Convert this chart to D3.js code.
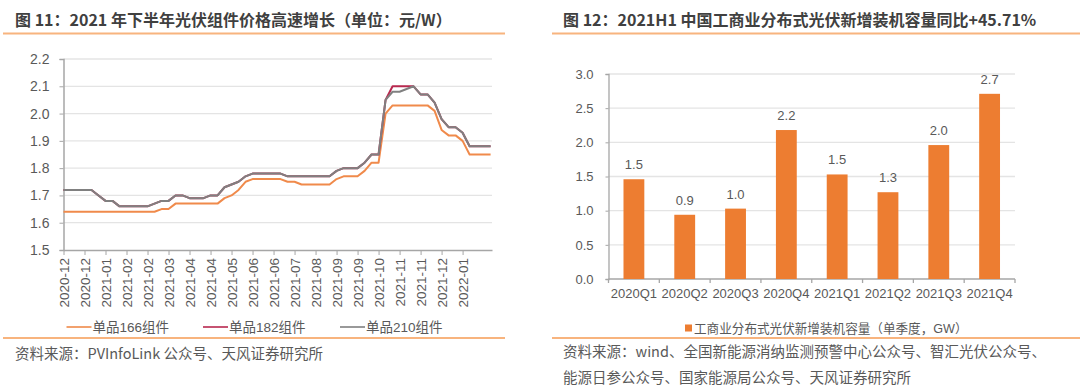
<!DOCTYPE html>
<html>
<head>
<meta charset="utf-8">
<script src="https://cdn.jsdelivr.net/npm/d3@7"></script>
<style>
  body { margin: 0; background: #fff; }
  svg { display: block; }
  .num { font-family: "Liberation Sans", "Noto Sans CJK SC", sans-serif; fill: #595959; }
  .cjk { font-family: "Noto Sans CJK SC", "Liberation Sans", sans-serif; }
</style>
</head>
<body>
<svg id="chart" width="1080" height="389"></svg>
<script>
// ---- left chart data: weekly module prices (yuan/W)
const weekTicks = ["2020-12","2020-12","2021-01","2021-02","2021-02","2021-03","2021-04","2021-04","2021-05","2021-06",
  "2021-06","2021-07","2021-08","2021-09","2021-09","2021-10","2021-11","2021-11","2021-12","2022-01"];

const mono166 = [1.64,1.64,1.64,1.64,1.64,1.64,1.64,1.64,1.64,1.64,1.64,1.64,1.64,1.64,1.65,1.65,1.67,1.67,1.67,1.67,
  1.67,1.67,1.67,1.69,1.70,1.72,1.75,1.76,1.76,1.76,1.76,1.76,1.75,1.75,1.74,1.74,1.74,1.74,1.74,1.76,
  1.77,1.77,1.77,1.79,1.82,1.82,2.00,2.03,2.03,2.03,2.03,2.03,2.03,2.01,1.94,1.92,1.92,1.90,1.85,1.85,
  1.85,1.85];

const mono182 = [1.72,1.72,1.72,1.72,1.72,1.70,1.68,1.68,1.66,1.66,1.66,1.66,1.66,1.67,1.68,1.68,1.70,1.70,1.69,1.69,
  1.69,1.70,1.70,1.73,1.74,1.75,1.77,1.78,1.78,1.78,1.78,1.78,1.77,1.77,1.77,1.77,1.77,1.77,1.77,1.79,
  1.80,1.80,1.80,1.82,1.85,1.85,2.05,2.10,2.10,2.10,2.10,2.07,2.07,2.04,1.98,1.95,1.95,1.93,1.88,1.88,
  1.88,1.88];

const mono210 = [1.72,1.72,1.72,1.72,1.72,1.70,1.68,1.68,1.66,1.66,1.66,1.66,1.66,1.67,1.68,1.68,1.70,1.70,1.69,1.69,
  1.69,1.70,1.70,1.73,1.74,1.75,1.77,1.78,1.78,1.78,1.78,1.78,1.77,1.77,1.77,1.77,1.77,1.77,1.77,1.79,
  1.80,1.80,1.80,1.82,1.85,1.85,2.05,2.08,2.08,2.09,2.10,2.07,2.07,2.04,1.98,1.95,1.95,1.93,1.88,1.88,
  1.88,1.88];

const priceTicks = [1.5,1.6,1.7,1.8,1.9,2.0,2.1,2.2];

// ---- right chart data: C&I distributed PV new installs (GW per quarter)
const quarters = ["2020Q1","2020Q2","2020Q3","2020Q4","2021Q1","2021Q2","2021Q3","2021Q4"];
const capacity = [1.46,0.94,1.03,2.18,1.53,1.27,1.96,2.71];
const capTicks = [0,0.5,1,1.5,2,2.5,3];

const svg = d3.select("#chart");
svg.append("rect").attr("width",1080).attr("height",389).attr("fill","#fff");

const lineOrange = "#f8b47e";
const axisGray = "#a6a6a6";
const gridGray = "#e4e4e4";

// titles and separators
svg.append("text").attr("class","cjk").attr("x",15).attr("y",26)
  .attr("font-size",16).attr("font-weight","bold").attr("fill","#404040")
  .text("图 11：2021 年下半年光伏组件价格高速增长（单位：元/W）");
svg.append("text").attr("class","cjk").attr("x",563).attr("y",26)
  .attr("font-size",16).attr("font-weight","bold").attr("fill","#404040")
  .text("图 12：2021H1 中国工商业分布式光伏新增装机容量同比+45.71%");

[[3,505,33.5],[552,1080,33.5],[3,505,338],[552,1080,338]].forEach(d => {
  svg.append("line").attr("x1",d[0]).attr("x2",d[1]).attr("y1",d[2]).attr("y2",d[2])
    .attr("stroke",lineOrange).attr("stroke-width",2);
});

// sources
svg.append("text").attr("class","cjk").attr("x",15).attr("y",359)
  .attr("font-size",14.5).attr("fill","#595959")
  .text("资料来源：PVInfoLink 公众号、天风证券研究所");
svg.append("text").attr("class","cjk").attr("x",563).attr("y",357)
  .attr("font-size",14.5).attr("fill","#595959")
  .text("资料来源：wind、全国新能源消纳监测预警中心公众号、智汇光伏公众号、");
svg.append("text").attr("class","cjk").attr("x",563).attr("y",383)
  .attr("font-size",14.5).attr("fill","#595959")
  .text("能源日参公众号、国家能源局公众号、天风证券研究所");

// ================= left line chart
const x = d3.scaleLinear().domain([0, 61.2]).range([63.5, 492]);
const y = d3.scaleLinear().domain([1.5, 2.2]).range([250, 59]);

const gl = svg.append("g");
gl.selectAll("line.grid").data(priceTicks.slice(1)).join("line")
  .attr("x1",x(0)).attr("x2",492).attr("y1",d=>y(d)).attr("y2",d=>y(d))
  .attr("stroke",gridGray).attr("stroke-width",1.3);

const yAx = gl.append("g").attr("transform",`translate(${x(0)},0)`)
  .call(d3.axisLeft(y).tickValues(priceTicks).tickFormat(d3.format(".1f")).tickSize(4).tickPadding(10));
yAx.select(".domain").attr("stroke",axisGray).attr("stroke-width",1.5);
yAx.selectAll(".tick line").attr("stroke",axisGray);
yAx.selectAll("text").attr("class","num").attr("font-size",14).attr("fill","#595959");

const tickIdx = weekTicks.map((d,i)=>i*3);
const xAx = gl.append("g").attr("transform","translate(0,250)")
  .call(d3.axisBottom(x).tickValues(tickIdx).tickFormat((d,i)=>weekTicks[i]).tickSize(5).tickSizeOuter(0));
xAx.select(".domain").attr("stroke",axisGray).attr("stroke-width",1.5);
xAx.selectAll(".tick line").attr("stroke",axisGray);
xAx.selectAll("text").attr("class","num").attr("font-size",13.5).attr("fill","#595959")
  .attr("transform","rotate(-90)").attr("text-anchor","end")
  .attr("x",-8).attr("y",0).attr("dy","0.36em");

const line = d3.line().x((d,i)=>x(i)).y(d=>y(d));
const series = [
  {name:"单品166组件", values:mono166, color:"#f08a4b"},
  {name:"单品182组件", values:mono182, color:"#b8294f"},
  {name:"单品210组件", values:mono210, color:"#808080"}
];
gl.selectAll("path.s").data(series).join("path")
  .attr("fill","none").attr("stroke",d=>d.color).attr("stroke-width",2)
  .attr("stroke-linejoin","round").attr("d",d=>line(d.values));

// legend
const legendX = [66.5, 203, 340];
const lg = svg.append("g").selectAll("g").data(series).join("g")
  .attr("transform",(d,i)=>`translate(${legendX[i]},327)`);
lg.append("line").attr("x1",0).attr("x2",25).attr("stroke",d=>d.color).attr("stroke-width",2).attr("opacity",0.8);
lg.append("text").attr("class","num").attr("x",26).attr("dy","0.36em").attr("font-size",13.5).attr("fill","#595959")
  .text(d=>d.name);

// ================= right bar chart
const xb = d3.scaleBand().domain(quarters).range([608.5, 1015]).paddingInner(0.59).paddingOuter(0.295);
const yb = d3.scaleLinear().domain([0, 3]).range([279, 74]);

const gr = svg.append("g");
gr.selectAll("line.grid").data(capTicks.slice(1)).join("line")
  .attr("x1",608.5).attr("x2",1015).attr("y1",d=>yb(d)).attr("y2",d=>yb(d))
  .attr("stroke",gridGray).attr("stroke-width",1.3);

const ybAx = gr.append("g").attr("transform","translate(608.5,0)")
  .call(d3.axisLeft(yb).tickValues(capTicks).tickFormat(d3.format(".1f")).tickSize(3).tickPadding(12));
ybAx.select(".domain").attr("stroke",axisGray).attr("stroke-width",1.3);
ybAx.selectAll(".tick line").attr("stroke",axisGray);
ybAx.selectAll("text").attr("class","num").attr("font-size",13).attr("fill","#595959");

// x baseline with boundary ticks
gr.append("line").attr("x1",608.5).attr("x2",1015).attr("y1",yb(0)).attr("y2",yb(0))
  .attr("stroke",axisGray).attr("stroke-width",1.3);
gr.selectAll("line.bt").data(d3.range(quarters.length+1)).join("line")
  .attr("x1",i=>608.5+i*xb.step()).attr("x2",i=>608.5+i*xb.step())
  .attr("y1",yb(0)).attr("y2",yb(0)+4).attr("stroke",axisGray).attr("stroke-width",1.3);
gr.selectAll("text.ql").data(quarters).join("text").attr("class","num")
  .attr("x",d=>xb(d)+xb.bandwidth()/2).attr("y",yb(0)+19).attr("text-anchor","middle")
  .attr("font-size",13).text(d=>d);

gr.selectAll("rect.bar").data(capacity).join("rect")
  .attr("x",(d,i)=>xb(quarters[i])).attr("width",xb.bandwidth())
  .attr("y",d=>yb(d)).attr("height",d=>yb(0)-yb(d)).attr("fill","#ed7d31");

gr.selectAll("text.vl").data(capacity).join("text").attr("class","num")
  .attr("x",(d,i)=>xb(quarters[i])+xb.bandwidth()/2).attr("y",d=>yb(d)-10)
  .attr("text-anchor","middle").attr("font-size",13).text(d=>d.toFixed(1));

// legend
svg.append("rect").attr("x",685).attr("y",324.5).attr("width",7).attr("height",7).attr("fill","#ed7d31");
svg.append("text").attr("class","num").attr("x",694).attr("y",328).attr("dy","0.36em")
  .attr("font-size",12.6).text("工商业分布式光伏新增装机容量（单季度，GW）");
</script>
</body>
</html>
